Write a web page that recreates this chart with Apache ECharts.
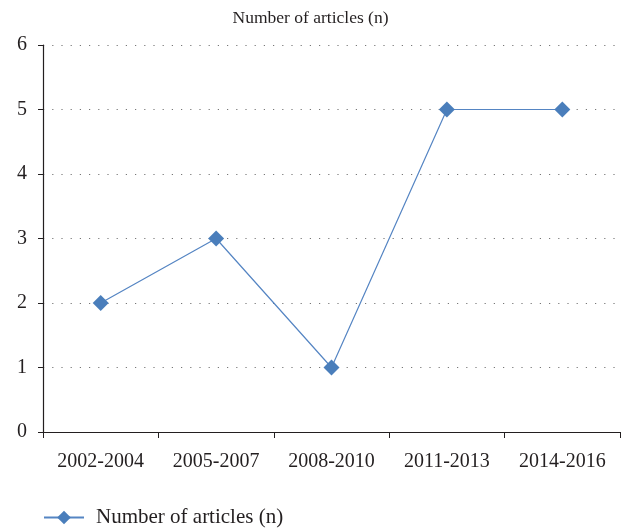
<!DOCTYPE html>
<html><head><meta charset="utf-8">
<script src="https://cdn.jsdelivr.net/npm/echarts@6/dist/echarts.min.js"></script>
<style>html,body{margin:0;padding:0;background:#fff}#c{width:621px;height:528px}</style>
</head><body><div id="c"></div>
<script>
const categories = ['2002-2004','2005-2007','2008-2010','2011-2013','2014-2016'];
const articles = [2, 3, 1, 5, 5];
const seriesName = 'Number of articles (n)';
const yTicks = [0, 1, 2, 3, 4, 5, 6];

const font = 'Liberation Serif';
const chart = echarts.init(document.getElementById('c'));
chart.setOption({
  animation: false,
  title: {text: seriesName, left: 'center', top: 4,
    textStyle: {fontFamily: font, fontSize: 17.5, fontWeight: 'normal', color: '#231f20'}},
  legend: {data: [seriesName], left: 43, top: 507, padding: 0, itemWidth: 40, itemHeight: 17,
    textStyle: {fontFamily: font, fontSize: 21, color: '#231f20', padding: [0, 0, 0, 7]}},
  grid: {left: 43, right: 1, top: 45, bottom: 96, containLabel: false},
  xAxis: {type: 'category', data: categories, boundaryGap: true,
    axisLine: {lineStyle: {color: '#231f20', width: 1.2}},
    axisTick: {show: true, length: 6, lineStyle: {color: '#231f20'}},
    axisLabel: {fontFamily: font, fontSize: 20, color: '#231f20', margin: 20}},
  yAxis: {type: 'value', min: yTicks[0], max: yTicks[yTicks.length-1], interval: 1,
    axisLine: {show: true, lineStyle: {color: '#231f20', width: 1.2}},
    axisTick: {show: true, length: 5, lineStyle: {color: '#231f20'}},
    axisLabel: {fontFamily: font, fontSize: 20, color: '#231f20', margin: 16},
    splitLine: {show: true, lineStyle: {color: '#777', width: 1.2, type: [1.2, 8]}}},
  series: [{name: seriesName, type: 'line', data: articles,
    symbol: 'diamond', symbolSize: 16,
    lineStyle: {color: '#5585c3', width: 1.2},
    itemStyle: {color: '#4a7ebb'}}]
});
</script></body></html>
